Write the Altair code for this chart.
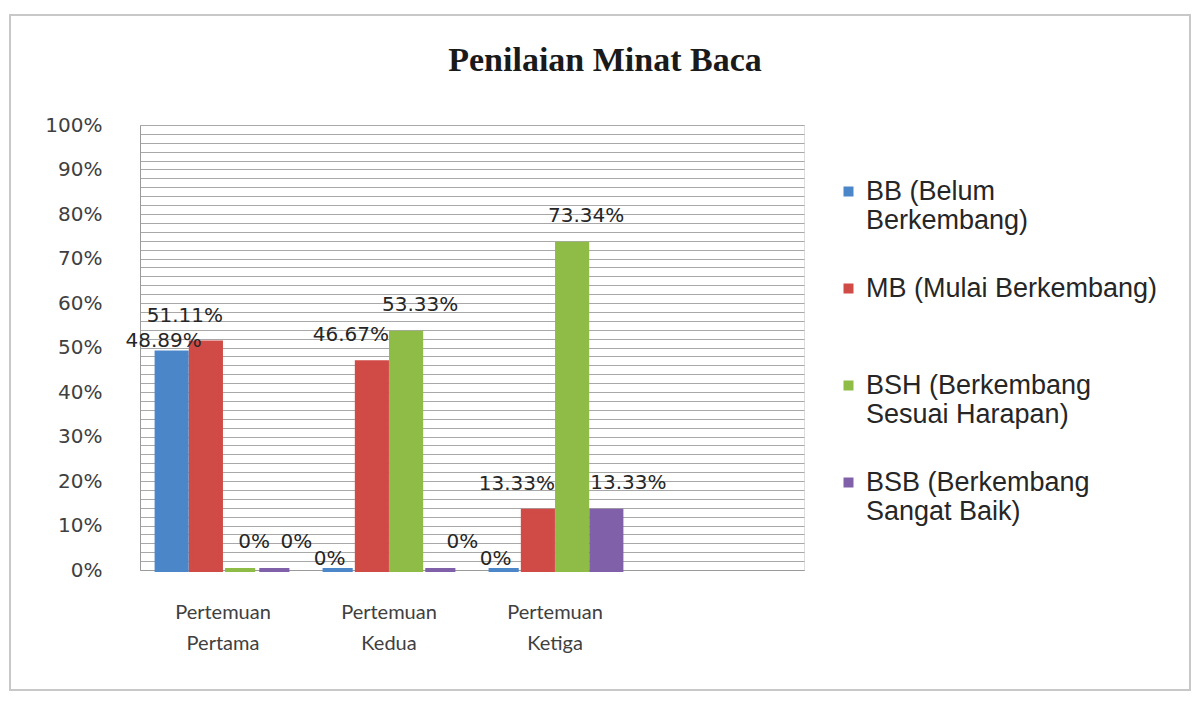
import altair as alt
import pandas as pd

# ---- data ----
categories = ["Pertemuan Pertama", "Pertemuan Kedua", "Pertemuan Ketiga"]
series = [
    "BB (Belum|Berkembang)",
    "MB (Mulai Berkembang)",
    "BSH (Berkembang|Sesuai Harapan)",
    "BSB (Berkembang|Sangat Baik)",
]
bb = [48.89, 0, 0]
mb = [51.11, 46.67, 13.33]
bsh = [0, 53.33, 73.34]
bsb = [0, 0, 13.33]
colors = ["#4a86c8", "#d04a46", "#8fbc47", "#8060a8"]
y_ticks = list(range(0, 101, 2))

rows = []
for s, vals in zip(series, [bb, mb, bsh, bsb]):
    for c, v in zip(categories, vals):
        rows.append({"cat": c, "series": s, "value": v})
df = pd.DataFrame(rows)

x_domain = categories + [" "]
W, H = 664, 445

base = alt.Chart(df).encode(
    x=alt.X("cat:N", scale=alt.Scale(domain=x_domain, paddingInner=0.2, paddingOuter=0.1),
            sort=x_domain,
            axis=alt.Axis(title=None, labelAngle=0, ticks=False, domain=True, domainColor="#9a9a9a",
                          labelExpr="split(datum.label, ' ')", labelFont="Lato", labelFontSize=20,
                          labelColor="#404040", labelPadding=32, labelLineHeight=31)),
    xOffset=alt.XOffset("series:N", sort=series, scale=alt.Scale(domain=series, paddingInner=0.12)),
)

bars = base.mark_bar(strokeWidth=4).encode(
    y=alt.Y("value:Q", scale=alt.Scale(domain=[0, 100], nice=False),
            axis=alt.Axis(title=None, values=y_ticks, tickCount=len(y_ticks) + 5, ticks=False,
                          domain=True, domainColor="#9a9a9a",
                          grid=True, gridColor="#a8a8a8", gridWidth=1, labelOverlap=False,
                          labelExpr="datum.value % 10 == 0 ? datum.value + '%' : ''",
                          labelFont="DejaVu Sans", labelFontSize=20, labelColor="#404040",
                          labelPadding=38)),
    color=alt.Color("series:N", sort=series, scale=alt.Scale(domain=series, range=colors),
                    legend=alt.Legend(title=None, orient="none", legendX=695, legendY=53,
                                      symbolType="square", symbolSize=100, symbolStrokeWidth=0,
                                      labelFont="Liberation Sans", labelFontSize=27,
                                      labelColor="#262626", labelLimit=400, labelOffset=4,
                                      labelExpr="split(datum.label, '|')",
                                      gridAlign="all", rowPadding=40)),
    stroke=alt.Stroke("series:N", sort=series, scale=alt.Scale(domain=series, range=colors), legend=None),
)

label_style = [(-8, -11), (-21, -27), (14, -28), (22, -28)]
text_layers = []
for s, (dx, dy) in zip(series, label_style):
    t = base.mark_text(font="DejaVu Sans", fontSize=20, color="#262626", dx=dx, dy=dy,
                       baseline="middle", align="center").encode(
        y=alt.Y("value:Q"),
        text=alt.Text("lbl:N"),
    ).transform_filter(alt.datum.series == s).transform_calculate(lbl="datum.value + '%'")
    text_layers.append(t)

frame = alt.Chart(alt.Data(values=[{}])).mark_rect(fill=None, stroke="#c8c8c8", strokeWidth=2).encode(
    x=alt.value(-130), x2=alt.value(1050), y=alt.value(-110), y2=alt.value(565)
)

chart = alt.layer(frame, bars, *text_layers).properties(
    width=W, height=H,
    title=alt.TitleParams("Penilaian Minat Baca", font="Liberation Serif", fontSize=34,
                          fontWeight="bold", color="#1a1a1a", anchor="middle", dx=133, offset=-64),
    autosize=alt.AutoSizeParams(type="none"),
    padding={"left": 132, "top": 117, "right": 388, "bottom": 126},
).configure_view(stroke=None).configure(background="white")

chart.save("out.html", embed_options={"renderer": "svg", "actions": False})
